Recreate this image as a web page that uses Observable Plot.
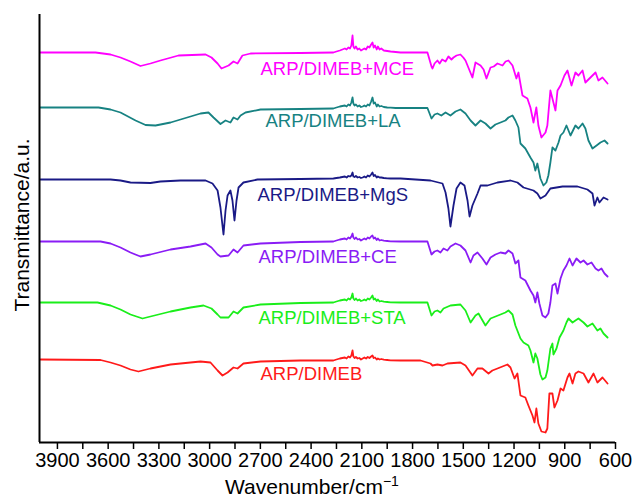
<!DOCTYPE html>
<html><head><meta charset="utf-8">
<script src="https://cdn.jsdelivr.net/npm/d3@7"></script>
<script src="https://cdn.jsdelivr.net/npm/@observablehq/plot@0.6"></script>
<style>body{margin:0;background:#fff}#chart svg{display:block}</style>
</head><body><div id="chart"></div>
<script>
// Wavenumber (cm-1) / transmittance (a.u., stacked offsets)
const seriesNames = ["ARP/DIMEB+MCE","ARP/DIMEB+LA","ARP/DIMEB+MgS","ARP/DIMEB+CE","ARP/DIMEB+STA","ARP/DIMEB"];
const seriesColors = ["#ff00ff","#178282","#1a1a86","#8a1cf5","#1aee1a","#ff1a1a"];
const xTicks = [3900,3600,3300,3000,2700,2400,2100,1800,1500,1200,900,600];
const xMinorTicks = [3750,3450,3150,2850,2550,2250,1950,1650,1350,1050,750];
const xDomain = [4006, 600];
const yDomain = [0, 428];
const labelWn = [2699,2670,2717,2711,2711,2699];
const labelT = [373,321.5,247.5,185,124,68.5];

const mce = [[4000,390],[3675,390],[3586,388],[3527,385],[3468,381],[3409,376.5],[3350,379],[3291,382],[3184,387],[3024,388],[2989,385],[2953,379],[2930,374],[2888,377],[2859,381],[2835,379],[2806,387],[2758,389],[2463,389.5],[2268,390],[2250,391],[2230,392],[2215,393],[2200,394],[2190,393],[2180,395],[2170,394],[2162,397],[2155,407],[2150,396],[2143,394],[2135,396],[2125,393],[2115,394],[2105,392],[2095,393],[2085,394],[2075,393],[2065,396],[2055,395],[2045,398],[2037,400],[2030,395],[2022,397],[2012,393],[2005,396],[1995,393],[1985,394],[1970,392],[1950,391.5],[1930,391],[1900,390.5],[1871,390],[1712,390],[1688,376],[1682,374],[1670,379],[1653,382],[1640,379],[1625,383],[1605,381],[1588,386],[1570,383],[1558,385],[1540,387],[1517,388],[1500,385],[1487,382],[1446,365],[1428,380],[1398,377],[1380,373],[1363,364],[1339,375],[1320,376],[1298,379],[1268,377],[1250,381],[1233,382],[1209,377],[1186,364],[1174,370],[1150,347],[1121,344],[1103,335],[1085,320],[1068,335],[1056,317],[1038,305],[1014,310],[1003,317],[985,352],[967,340],[955,332],[943,352],[925,357],[902,367],[884,372],[860,357],[837,370],[819,367],[795,372],[778,360],[748,365],[718,370],[701,362],[677,365],[647,359]];
const la = [[4000,335],[3657,335],[3586,333],[3527,330],[3438,322],[3379,317.5],[3320,317],[3231,320],[3172,323],[3054,329],[3007,330],[2977,325],[2936,318.5],[2906,322],[2877,320],[2859,325],[2835,323],[2817,327],[2788,330],[2699,333],[2463,333.5],[2268,334],[2250,335],[2230,336],[2215,336.5],[2200,337],[2190,336],[2180,338],[2170,337],[2162,340],[2155,345],[2150,339],[2143,337],[2135,338],[2125,336],[2115,337],[2105,335.5],[2095,336],[2085,337],[2075,336],[2065,338],[2055,337],[2045,341],[2037,345],[2030,339],[2022,340],[2012,336],[2005,338],[1995,336],[1985,336.5],[1970,335.5],[1950,335],[1930,334.8],[1900,334.5],[1871,334.5],[1712,334.5],[1688,324],[1670,328],[1653,329],[1630,327],[1605,330],[1576,327],[1546,331],[1517,333],[1487,329],[1457,322],[1428,317],[1398,322],[1369,319],[1339,314],[1310,318],[1280,320],[1251,322],[1233,325],[1209,327],[1192,322],[1174,315],[1162,299],[1133,294],[1103,285],[1085,280],[1074,272],[1062,279],[1044,264],[1026,257],[1009,260],[997,267],[985,280],[973,295],[955,292],[937,300],[925,307],[908,310],[890,317],[866,307],[837,317],[819,314],[795,319],[778,314],[760,302],[736,294],[712,297],[689,300],[665,302],[647,299]];
const mgs = [[4000,263],[3586,263],[3527,262],[3468,260],[3350,259.5],[3291,261],[3172,262],[3024,262],[2983,259],[2953,252],[2936,235],[2918,208],[2906,232],[2894,247],[2877,252],[2865,242],[2853,222],[2841,242],[2829,255],[2800,260],[2717,263],[2463,263.5],[2268,264],[2250,264.5],[2230,265],[2215,265.5],[2200,266],[2190,265],[2180,266.5],[2170,266],[2162,267],[2155,270],[2150,266],[2143,265.5],[2135,266.5],[2125,265],[2115,265.5],[2105,264.5],[2095,265],[2085,266],[2075,265],[2065,267],[2055,266],[2045,268],[2037,270],[2030,266.5],[2022,267.5],[2012,265],[2005,266],[1995,265],[1985,265],[1970,264.5],[1950,264.2],[1930,264],[1871,264],[1694,262],[1623,259],[1605,250],[1588,234],[1576,216],[1558,237],[1540,254],[1517,260],[1493,257],[1475,242],[1463,226],[1446,237],[1416,249],[1398,257],[1357,257],[1298,260],[1221,262],[1180,260],[1144,255],[1085,252],[1062,249],[1044,244],[1014,247],[985,254],[913,256],[825,256],[766,253],[736,249],[724,237],[707,245],[695,240],[671,245],[647,243]];
const ce = [[4000,201],[3645,201],[3586,199],[3527,195],[3468,190],[3409,186],[3350,188],[3231,193],[3113,196],[3054,198],[3024,199],[2989,195],[2953,188],[2936,186],[2888,187],[2859,193],[2835,190],[2800,197],[2699,199],[2463,200.5],[2268,201],[2250,202],[2230,203],[2215,203.5],[2200,204],[2190,203],[2180,205],[2170,204],[2162,206],[2155,209],[2150,205],[2143,203.5],[2135,205],[2125,203],[2115,203.5],[2105,202],[2095,203],[2085,204],[2075,203],[2065,205],[2055,204],[2045,206],[2037,207],[2030,204],[2022,205],[2012,202.5],[2005,204],[1995,202],[1985,202.5],[1970,201.8],[1950,201.5],[1930,201.2],[1871,201],[1712,201],[1688,188],[1670,191],[1653,192],[1635,190],[1617,194],[1594,192],[1576,196],[1546,199],[1517,197],[1487,192],[1457,180],[1440,187],[1416,190],[1387,184],[1363,178],[1339,185],[1310,188],[1280,190],[1251,189],[1233,192],[1209,189],[1192,179],[1174,182],[1162,165],[1133,162],[1103,152],[1085,147],[1074,140],[1062,150],[1050,139],[1032,127],[1014,125],[997,129],[985,140],[973,157],[955,159],[943,149],[925,164],[908,172],[890,177],[872,184],[854,177],[831,184],[807,180],[789,182],[766,178],[742,180],[718,174],[701,172],[683,174],[665,169],[647,166]];
const sta = [[4000,140],[3663,140],[3586,137],[3527,133],[3468,128],[3397,124],[3350,126],[3231,131],[3113,135],[3036,137],[2989,134],[2953,128],[2936,125],[2888,125],[2859,131],[2835,129],[2800,135],[2699,138],[2463,139.5],[2268,140],[2250,141],[2230,142],[2215,142.5],[2200,143],[2190,142],[2180,144],[2170,143],[2162,145],[2155,149],[2150,144],[2143,142.5],[2135,144],[2125,142],[2115,143],[2105,141.5],[2095,142],[2085,143],[2075,142],[2065,144],[2055,143],[2045,145],[2037,147],[2030,143],[2022,144],[2012,141.5],[2005,143],[1995,141],[1985,141.5],[1970,140.8],[1950,140.5],[1930,140.2],[1871,140],[1712,140],[1688,127],[1670,131],[1653,132],[1635,130],[1617,134],[1576,137],[1517,138],[1487,132],[1457,120],[1428,127],[1410,129],[1369,117],[1339,124],[1280,128],[1251,130],[1233,132],[1209,128],[1192,117],[1162,104],[1144,100],[1115,97],[1103,92],[1085,80],[1074,89],[1062,84],[1044,68],[1032,63],[1014,65],[1003,72],[985,94],[973,99],[967,88],[949,94],[931,105],[908,112],[890,120],[878,124],[854,120],[837,122],[819,124],[789,120],[766,116],[736,119],[707,112],[689,114],[671,109],[647,105]];
const dimeb = [[4000,83],[3645,82.5],[3586,80],[3527,77],[3468,73],[3421,71],[3350,74],[3231,78],[3054,81],[2995,80],[2953,72],[2924,67],[2894,70],[2859,75],[2835,74],[2800,79],[2699,81],[2463,82],[2268,82],[2250,83],[2230,84],[2215,84.5],[2200,85],[2190,84],[2180,86],[2170,85],[2162,87],[2155,92],[2150,86],[2143,84.5],[2135,85.5],[2125,84],[2115,84.5],[2105,83],[2095,84],[2085,85],[2075,84],[2065,85.5],[2055,84.5],[2045,86],[2037,87],[2030,84.5],[2022,85],[2012,83],[2005,84],[1995,83],[1985,83.5],[1970,82.8],[1950,82.5],[1930,82.2],[1871,82],[1753,82],[1694,79],[1682,77],[1653,78],[1623,77],[1594,79],[1517,80],[1487,77],[1446,67],[1416,74],[1387,74],[1351,69],[1328,72],[1298,74],[1239,78],[1221,75],[1197,64],[1180,69],[1162,47],[1133,45],[1115,37],[1091,27],[1079,20],[1068,34],[1056,19],[1038,11],[1014,10],[1003,14],[991,49],[973,49],[961,35],[943,42],[925,54],[908,52],[884,65],[872,69],[854,59],[837,69],[819,71],[789,69],[760,60],[730,69],[707,60],[677,65],[647,59]];

const spectra = [mce, la, mgs, ce, sta, dimeb];
const FONT = "'Liberation Sans', Arial, Helvetica, sans-serif";
const NARROW = "'Liberation Sans Narrow', 'Arial Narrow', 'Liberation Sans', sans-serif";

const labels = seriesNames.map((name, i) => ({name, wn: labelWn[i], t: labelT[i], color: seriesColors[i]}));

const chart = Plot.plot({
  width: 632,
  height: 497,
  marginLeft: 39,
  marginRight: 17,
  marginTop: 14,
  marginBottom: 55,
  style: {fontFamily: FONT, background: "#fff", overflow: "visible"},
  x: {domain: xDomain},
  y: {domain: yDomain, axis: null},
  marks: [
    ...spectra.map((s, i) => Plot.line(s, {x: d => d[0], y: d => d[1], stroke: seriesColors[i], strokeWidth: 1.8, curve: "linear"})),
    Plot.text(labels, {x: "wn", y: "t", text: "name", fill: "color", textAnchor: "start", lineAnchor: "middle", fontSize: 18.5, fontFamily: FONT}),
    Plot.ruleY([yDomain[0]], {stroke: "#000", strokeWidth: 2}),
    Plot.ruleX([xDomain[0]], {stroke: "#000", strokeWidth: 2}),
    Plot.axisX(xTicks, {tickSize: 7, tickPadding: 3, fontSize: 20, fontFamily: NARROW, label: null, stroke: "#000", strokeWidth: 1.5, fill: "#000", tickFormat: d => String(d)}),
    Plot.axisX(xMinorTicks, {tickSize: 7, tickFormat: () => "", label: null, stroke: "#000", strokeWidth: 1.5})
  ]
});

const svg = d3.select(chart);
const xt = svg.append("text").attr("x", 225).attr("y", 494).attr("text-anchor", "start")
  .attr("font-family", FONT).attr("font-size", 21).attr("fill", "#000");
xt.append("tspan").text("Wavenumber/cm");
xt.append("tspan").attr("font-size", 14).attr("dy", -8).text("\u22121");
svg.append("text").attr("transform", "translate(29,225) rotate(-90)").attr("text-anchor", "middle")
  .attr("font-family", FONT).attr("font-size", 21).attr("fill", "#000").text("Transmittance/a.u.");

document.getElementById("chart").appendChild(chart);
</script>
</body></html>
